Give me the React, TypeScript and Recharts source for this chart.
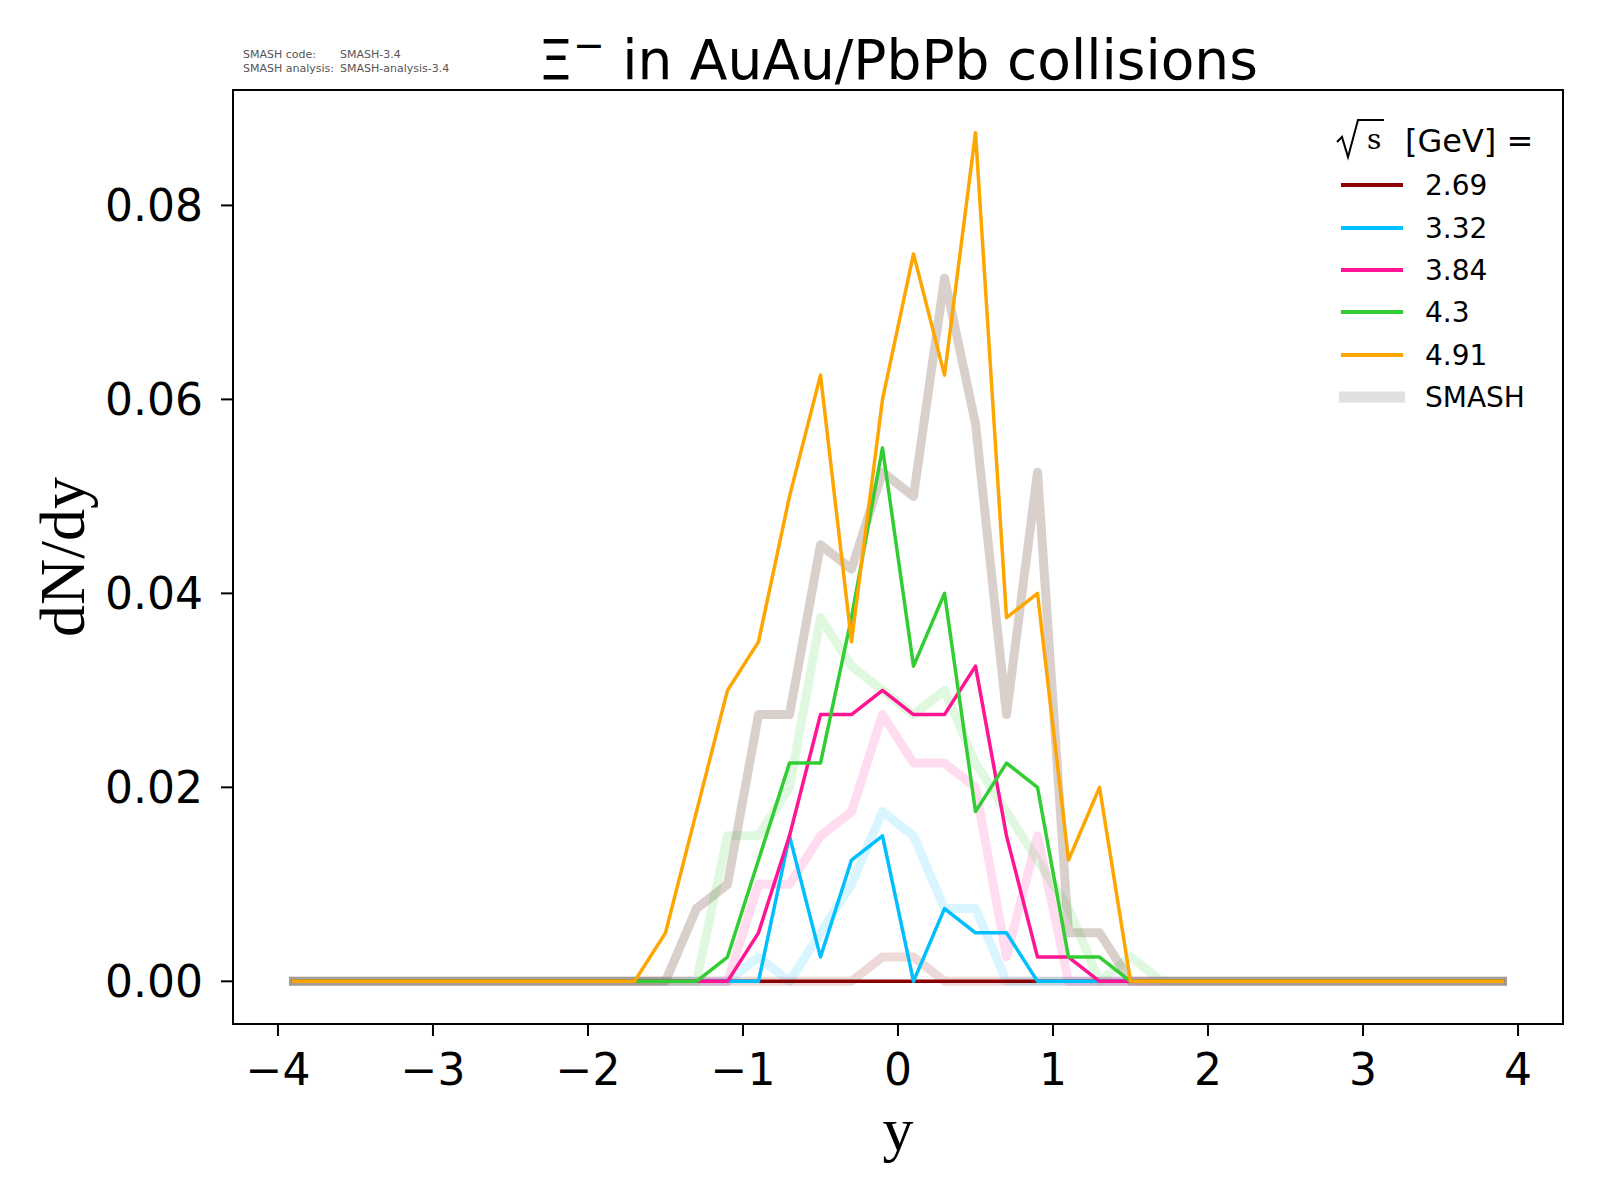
import { LineChart, Line, XAxis, YAxis, ReferenceArea } from "recharts";

// rapidity bin centres
const rapidity = [
  -3.9, -3.7, -3.5, -3.3, -3.1, -2.9, -2.7, -2.5, -2.3, -2.1,
  -1.9, -1.7, -1.5, -1.3, -1.1, -0.9, -0.7, -0.5, -0.3, -0.1,
  0.1, 0.3, 0.5, 0.7, 0.9, 1.1, 1.3, 1.5, 1.7, 1.9,
  2.1, 2.3, 2.5, 2.7, 2.9, 3.1, 3.3, 3.5, 3.7, 3.9,
];

// measured-style thin lines, one per sqrt(s)
const exp269 = [
  0, 0, 0, 0, 0, 0, 0, 0, 0, 0,
  0, 0, 0, 0, 0, 0, 0, 0, 0, 0,
  0, 0, 0, 0, 0, 0, 0, 0, 0, 0,
  0, 0, 0, 0, 0, 0, 0, 0, 0, 0,
];
const exp332 = [
  0, 0, 0, 0, 0, 0, 0, 0, 0, 0,
  0, 0, 0, 0, 0, 0, 0.015, 0.0025, 0.0125, 0.015,
  0, 0.0075, 0.005, 0.005, 0, 0, 0, 0, 0, 0,
  0, 0, 0, 0, 0, 0, 0, 0, 0, 0,
];
const exp384 = [
  0, 0, 0, 0, 0, 0, 0, 0, 0, 0,
  0, 0, 0, 0, 0, 0.005, 0.015, 0.0275, 0.0275, 0.03,
  0.0275, 0.0275, 0.0325, 0.015, 0.0025, 0.0025, 0, 0, 0, 0,
  0, 0, 0, 0, 0, 0, 0, 0, 0, 0,
];
const exp43 = [
  0, 0, 0, 0, 0, 0, 0, 0, 0, 0,
  0, 0, 0, 0, 0.0025, 0.0125, 0.0225, 0.0225, 0.0375, 0.055,
  0.0325, 0.04, 0.0175, 0.0225, 0.02, 0.0025, 0.0025, 0, 0, 0,
  0, 0, 0, 0, 0, 0, 0, 0, 0, 0,
];
const exp491 = [
  0, 0, 0, 0, 0, 0, 0, 0, 0, 0,
  0, 0, 0.005, 0.0175, 0.03, 0.035, 0.05, 0.0625, 0.035, 0.06,
  0.075, 0.0625, 0.0875, 0.0375, 0.04, 0.0125, 0.02, 0, 0, 0,
  0, 0, 0, 0, 0, 0, 0, 0, 0, 0,
];

// SMASH curves (drawn faded, thick)
const smash269 = [
  0, 0, 0, 0, 0, 0, 0, 0, 0, 0,
  0, 0, 0, 0, 0, 0, 0, 0, 0, 0.0025,
  0.0025, 0, 0, 0, 0, 0, 0, 0, 0, 0,
  0, 0, 0, 0, 0, 0, 0, 0, 0, 0,
];
const smash332 = [
  0, 0, 0, 0, 0, 0, 0, 0, 0, 0,
  0, 0, 0, 0, 0, 0.0025, 0, 0.005, 0.01, 0.0175,
  0.015, 0.0075, 0.0075, 0, 0, 0, 0, 0, 0, 0,
  0, 0, 0, 0, 0, 0, 0, 0, 0, 0,
];
const smash384 = [
  0, 0, 0, 0, 0, 0, 0, 0, 0, 0,
  0, 0, 0, 0, 0, 0.01, 0.01, 0.015, 0.0175, 0.0275,
  0.0225, 0.0225, 0.02, 0.0025, 0.015, 0, 0, 0, 0, 0,
  0, 0, 0, 0, 0, 0, 0, 0, 0, 0,
];
const smash43 = [
  0, 0, 0, 0, 0, 0, 0, 0, 0, 0,
  0, 0, 0, 0, 0.015, 0.015, 0.02, 0.0375, 0.0325, 0.03,
  0.0275, 0.03, 0.0225, 0.0175, 0.0125, 0.0075, 0, 0.0025, 0, 0,
  0, 0, 0, 0, 0, 0, 0, 0, 0, 0,
];
const smash491 = [
  0, 0, 0, 0, 0, 0, 0, 0, 0, 0,
  0, 0, 0, 0.0075, 0.01, 0.0275, 0.0275, 0.045, 0.0425, 0.0525,
  0.05, 0.0725, 0.0575, 0.0275, 0.0525, 0.005, 0.005, 0, 0, 0,
  0, 0, 0, 0, 0, 0, 0, 0, 0, 0,
];

const energies = ["2.69", "3.32", "3.84", "4.3", "4.91"];
const colors = ["#8b0000", "#00bfff", "#ff1493", "#32cd32", "#ffa500"];
const smashColors = ["#8b0000", "#00bfff", "#ff1493", "#32cd32", "#6e4a35"];
const smashOpacity = [0.15, 0.15, 0.15, 0.15, 0.26];
const xTicks = [-4, -3, -2, -1, 0, 1, 2, 3, 4];
const yTicks = [0, 0.02, 0.04, 0.06, 0.08];

const expSeries = [exp269, exp332, exp384, exp43, exp491];
const smashSeries = [smash269, smash332, smash384, smash43, smash491];

const data = rapidity.map((y, i) => {
  const row: Record<string, number> = { y };
  energies.forEach((e, k) => {
    row[`exp${e}`] = expSeries[k][i];
    row[`smash${e}`] = smashSeries[k][i];
  });
  return row;
});

const X_DOMAIN: [number, number] = [-4.29, 4.29];
const Y_DOMAIN: [number, number] = [-0.0044, 0.0919];
const SANS = "'DejaVu Sans', sans-serif";
const SERIF = "'Liberation Serif', 'DejaVu Serif', serif";

function LegendBox() {
  const rowY = [75, 118, 160, 202, 245, 287];
  return (
    <g transform="translate(1320 110)">
      {/* sqrt(s) header */}
      <path
        d="M17 32 L22 27 L28 47 L38 10 L64 10"
        fill="none"
        stroke="#000"
        strokeWidth={2}
      />
      <text x={47} y={39} fontFamily="'DejaVu Serif', serif" fontSize={28} fill="#000">
        s
      </text>
      <text x={85} y={42} fontFamily={SANS} fontSize={32} fill="#000">
        [GeV] =
      </text>
      {energies.map((e, k) => (
        <g key={e}>
          <line x1={21} x2={83} y1={rowY[k]} y2={rowY[k]} stroke={colors[k]} strokeWidth={4} />
          <text x={105} y={rowY[k] + 10} fontFamily={SANS} fontSize={28} fill="#000">
            {e}
          </text>
        </g>
      ))}
      <line x1={19} x2={85} y1={rowY[5]} y2={rowY[5]} stroke="#e0e0e0" strokeWidth={11} />
      <text x={105} y={rowY[5] + 10} fontFamily={SANS} fontSize={28} fill="#000">
        SMASH
      </text>
    </g>
  );
}

export default function App() {
  return (
    <div style={{ position: "relative", width: 1600, height: 1200, background: "#fff" }}>
      <style>{`body { margin: 0; }`}</style>
      <LineChart
        width={1600}
        height={1200}
        data={data}
        margin={{ top: 90, right: 37, bottom: 0, left: 0 }}
      >
        <XAxis
          dataKey="y"
          type="number"
          domain={X_DOMAIN}
          ticks={xTicks}
          allowDataOverflow
          height={176}
          tickSize={12}
          tickMargin={18}
          tick={{ fontSize: 44, fill: "#000", fontFamily: SANS }}
          tickLine={{ stroke: "#000", strokeWidth: 2 }}
          axisLine={false}
          tickFormatter={(v: number) => String(v).replace("-", "\u2212")}
        />
        <YAxis
          type="number"
          domain={Y_DOMAIN}
          ticks={yTicks}
          allowDataOverflow
          width={233}
          tickSize={12}
          tickMargin={18}
          tick={{ fontSize: 44, fill: "#000", fontFamily: SANS }}
          tickLine={{ stroke: "#000", strokeWidth: 2 }}
          axisLine={false}
          tickFormatter={(v: number) => v.toFixed(2)}
        />
        {energies.map((e, k) => (
          <Line
            key={`smash${e}`}
            type="linear"
            dataKey={`smash${e}`}
            stroke={smashColors[k]}
            strokeOpacity={smashOpacity[k]}
            strokeWidth={9}
            strokeLinecap="square"
            strokeLinejoin="round"
            dot={false}
            activeDot={false}
            isAnimationActive={false}
          />
        ))}
        {energies.map((e, k) => (
          <Line
            key={`exp${e}`}
            type="linear"
            dataKey={`exp${e}`}
            stroke={colors[k]}
            strokeWidth={3.5}
            strokeLinecap="square"
            strokeLinejoin="round"
            dot={false}
            activeDot={false}
            isAnimationActive={false}
          />
        ))}
        <ReferenceArea
          x1={X_DOMAIN[0]}
          x2={X_DOMAIN[1]}
          y1={Y_DOMAIN[0]}
          y2={Y_DOMAIN[1]}
          fill="none"
          stroke="#000"
          strokeWidth={2}
          ifOverflow="visible"
        />
      </LineChart>

      <svg
        width={1600}
        height={1200}
        style={{ position: "absolute", left: 0, top: 0, pointerEvents: "none" }}
      >
        <text x={243} y={58} fontFamily={SANS} fontSize={11} fill="#555">SMASH code:</text>
        <text x={340} y={58} fontFamily={SANS} fontSize={11} fill="#555">SMASH-3.4</text>
        <text x={243} y={72} fontFamily={SANS} fontSize={11} fill="#555">SMASH analysis:</text>
        <text x={340} y={72} fontFamily={SANS} fontSize={11} fill="#555">SMASH-analysis-3.4</text>

        <text x={898} y={79} textAnchor="middle" fontFamily={SANS} fontSize={55} fill="#000">
          Ξ<tspan dy={-21} fontSize={38}>{"\u2212"}</tspan>
          <tspan dy={21}> in AuAu/PbPb collisions</tspan>
        </text>

        <text x={898} y={1150} textAnchor="middle" fontFamily={SERIF} fontSize={62} fill="#000">
          y
        </text>
        <text
          x={0}
          y={0}
          transform="translate(84 557) rotate(-90)"
          textAnchor="middle"
          fontFamily={SERIF}
          fontSize={64}
          fill="#000"
        >
          dN/dy
        </text>

        <LegendBox />
      </svg>
    </div>
  );
}
